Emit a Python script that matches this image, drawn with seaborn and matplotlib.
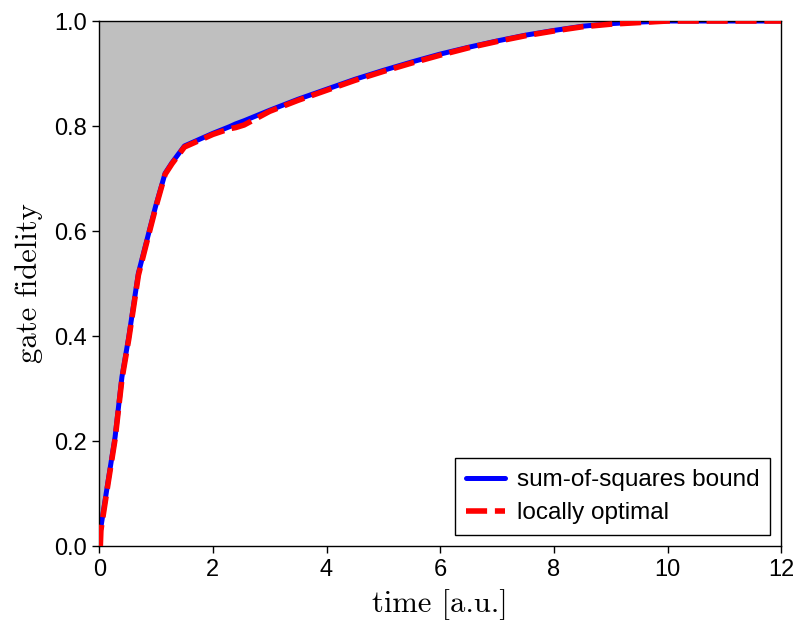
import numpy as np
import pandas as pd
import matplotlib
matplotlib.use("Agg")
import matplotlib.pyplot as plt
import seaborn as sns

time = [0.0, 0.03, 0.16, 0.28, 0.40, 0.52, 0.69, 0.84, 0.99, 1.16, 1.28, 1.50,
        2.00, 2.30, 2.40, 2.55, 3.00, 3.50, 4.00, 4.50, 5.00, 5.50, 6.00,
        6.50, 7.00, 7.50, 8.00, 8.50, 9.00, 9.50, 10.0, 11.0, 12.0]
bound = [0.0, 0.036, 0.126, 0.208, 0.322, 0.398, 0.52, 0.583, 0.646, 0.71, 0.73, 0.762,
         0.786, 0.799, 0.804, 0.810, 0.830, 0.851, 0.870, 0.889, 0.906, 0.922, 0.937,
         0.950, 0.962, 0.973, 0.982, 0.990, 0.995, 0.998, 1.0, 1.0, 1.0]
optimal = [0.0, 0.030, 0.122, 0.204, 0.318, 0.394, 0.516, 0.580, 0.643, 0.708, 0.728, 0.760,
           0.784, 0.795, 0.797, 0.802, 0.828, 0.849, 0.868, 0.887, 0.904, 0.920, 0.935,
           0.949, 0.961, 0.972, 0.981, 0.989, 0.994, 0.997, 1.0, 1.0, 1.0]
time_opt = [0.02] + time[1:]

xticks = [0, 2, 4, 6, 8, 10, 12]
yticks = [0.0, 0.2, 0.4, 0.6, 0.8, 1.0]

sns.set_theme(style="white")
plt.rcParams['font.family'] = ['Liberation Sans', 'DejaVu Sans']
plt.rcParams['text.color'] = 'black'
plt.rcParams['axes.labelcolor'] = 'black'

fig = plt.figure(figsize=(8.0, 6.31), dpi=100)
ax = fig.add_axes([0.124, 0.1347, 0.8525, 0.832])

ax.fill_between(time, bound, 1.0, color='#bfbfbf', linewidth=0, zorder=1)

df_b = pd.DataFrame({'time': time, 'fid': bound})
df_o = pd.DataFrame({'time': time_opt, 'fid': optimal})
sns.lineplot(data=df_b, x='time', y='fid', ax=ax, color='blue', lw=3.6,
             label='sum-of-squares bound', zorder=2, estimator=None, sort=False)
sns.lineplot(data=df_o, x='time', y='fid', ax=ax, color='red', lw=4.0,
             label='locally optimal', zorder=3, estimator=None, sort=False)
ax.lines[1].set_dashes([3.8, 1.4])
ax.lines[1].set_dash_capstyle('butt')

ax.set_xlim(0, 12)
ax.set_ylim(0, 1)
ax.set_xticks(xticks)
ax.set_yticks(yticks)
ax.set_xticklabels([str(t) for t in xticks])
ax.set_yticklabels([f"{t:.1f}" for t in yticks])
ax.tick_params(axis='both', which='both', direction='out', length=5, width=1,
               labelsize=17, colors='black', pad=4,
               bottom=True, left=True, top=False, right=False)
for s in ax.spines.values():
    s.set_color('black')
    s.set_linewidth(1.0)

ax.set_xlabel('time [a.u.]', fontsize=22, family='cmr10', labelpad=6, color='black')
ax.set_ylabel('gate fidelity', fontsize=22, family='cmr10', labelpad=8, color='black')

leg = ax.legend(loc='lower right', fontsize=17.5, frameon=True, fancybox=False,
                edgecolor='black', framealpha=1, borderaxespad=0.45,
                handlelength=1.6, handletextpad=0.5, borderpad=0.45, labelspacing=0.45)
leg.get_frame().set_linewidth(1.0)
for t in leg.get_texts():
    t.set_color('black')

fig.savefig('out.png', dpi=100)
